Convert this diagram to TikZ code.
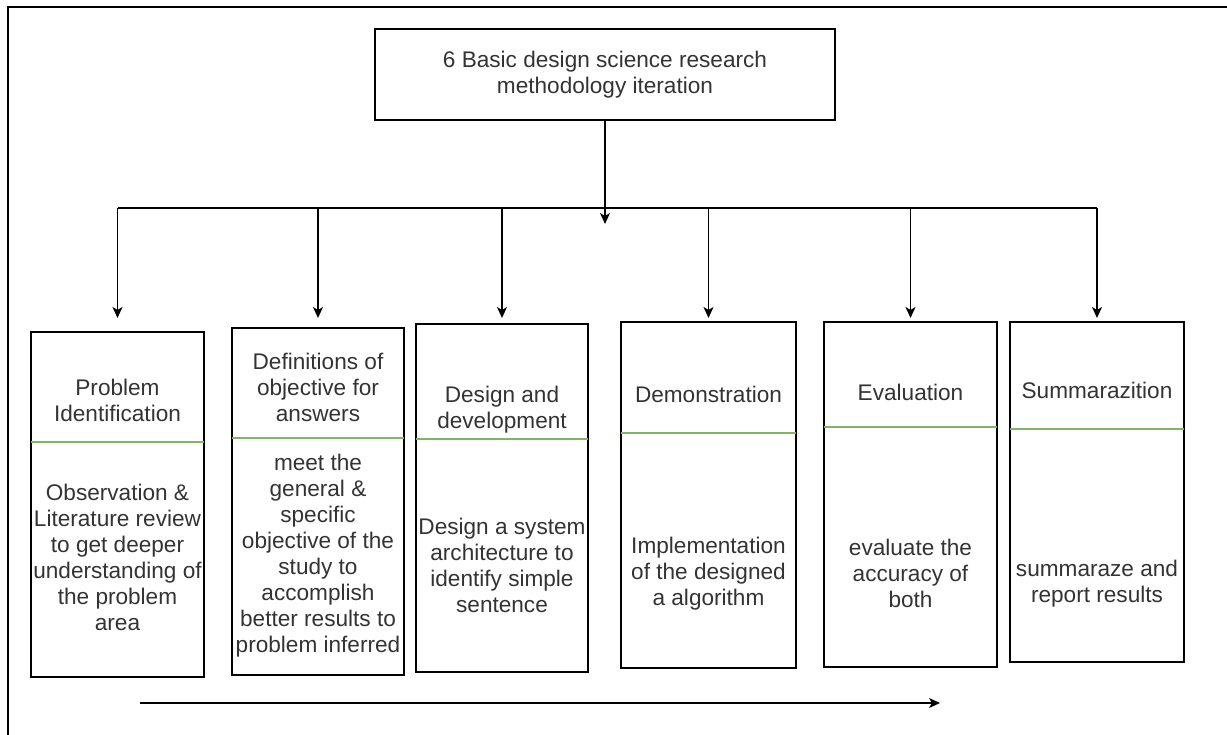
\documentclass[tikz,border=0pt]{standalone}
\usepackage{fontspec}
\setmainfont{Liberation Sans}
\usetikzlibrary{arrows.meta,positioning}
\definecolor{inkgray}{HTML}{333333}
\definecolor{divgreen}{HTML}{82B366}
\tikzset{
  phasebox/.style={draw, line width=1.3pt, inner sep=0pt, outer sep=0pt},
  phasetext/.style={align=center, text=inkgray, inner sep=0pt,
    font=\fontsize{22.6}{26}\selectfont},
  divider/.style={draw=divgreen, line width=1.2pt},
  busline/.style={line width=1.4pt},
  arr/.style={-{Stealth[length=11pt, width=10pt, inset=3pt]}, line width=1.4pt}
}

\begin{document}
\begin{tikzpicture}[x=1pt,y=-1pt]
  \useasboundingbox (0,0) rectangle (1227,735);
  \draw[line width=2pt] (1227,7) -- (8,7) -- (8,735);
  % header
  \node[phasebox, minimum width=460pt, minimum height=91pt] (top) at (605,74.5) {};
  \node[phasetext] (toptext) at (top.center) {6 Basic design science research\\methodology iteration};
  % six phases
  \node[phasebox, minimum width=173pt, minimum height=345pt] (b1) at (117.5,504.5) {};
  \node[phasebox, minimum width=172pt, minimum height=347pt] (b2) at (318,501.5) {};
  \node[phasebox, minimum width=172pt, minimum height=348pt] (b3) at (502,498) {};
  \node[phasebox, minimum width=175pt, minimum height=346pt] (b4) at (708.5,495) {};
  \node[phasebox, minimum width=173pt, minimum height=345pt] (b5) at (910.5,494.5) {};
  \node[phasebox, minimum width=174pt, minimum height=340pt] (b6) at (1097,492) {};
  \draw[divider] (b1.west |- 0,442) -- (b1.east |- 0,442);
  \draw[divider] (b2.west |- 0,438) -- (b2.east |- 0,438);
  \draw[divider] (b3.west |- 0,439) -- (b3.east |- 0,439);
  \draw[divider] (b4.west |- 0,433) -- (b4.east |- 0,433);
  \draw[divider] (b5.west |- 0,427) -- (b5.east |- 0,427);
  \draw[divider] (b6.west |- 0,429) -- (b6.east |- 0,429);
  \node[phasetext] (h1) at (117.5,400) {Problem\\Identification};
  \node[phasetext] (h2) at (318,387) {Definitions of\\objective for\\answers};
  \node[phasetext] (h3) at (502,410) {Design and\\development};
  \node[phasetext] (h4) at (708.5,394) {Demonstration};
  \node[phasetext] (h5) at (910.5,392) {Evaluation};
  \node[phasetext] (h6) at (1097,390) {Summarazition};
  \node[phasetext] (d1) at (117.5,557.5) {Observation \&\\Literature review\\to get deeper\\understanding of\\the problem\\area};
  \node[phasetext] (d2) at (318,556) {meet the\\general \&\\specific\\objective of the\\study to\\accomplish\\better results to\\problem inferred};
  \node[phasetext] (d3) at (502,565) {Design a system\\architecture to\\identify simple\\sentence};
  \node[phasetext] (d4) at (708.5,574) {Implementation\\of the designed\\a algorithm};
  \node[phasetext] (d5) at (910.5,573) {evaluate the\\accuracy of\\both};
  \node[phasetext] (d6) at (1097,584) {summaraze and\\report results};
  % connectors
  \coordinate (hub) at (0,208);
  \coordinate (tip) at (0,318);
  \draw[arr] (top.south) -- (top.south |- 0,224);
  \draw[busline] (b1.north |- hub) -- (b6.north |- hub);
  \foreach \b in {b1,b2,b3,b4,b5,b6}
    \draw[arr] (\b.north |- hub) -- (\b.north |- tip);
  \coordinate (flowstart) at (140,703);
  \coordinate (flowend) at (940,703);
  \draw[arr] (flowstart) -- (flowend);
\end{tikzpicture}
\end{document}
